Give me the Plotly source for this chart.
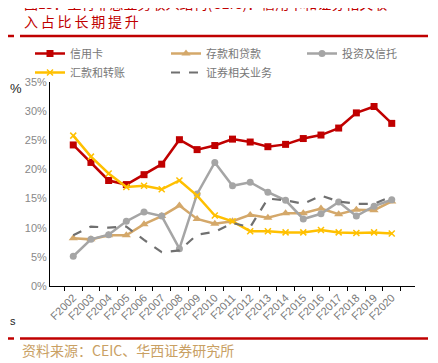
import plotly.graph_objects as go

years = ["F2002","F2003","F2004","F2005","F2006","F2007","F2008","F2009","F2010","F2011",
         "F2012","F2013","F2014","F2015","F2016","F2017","F2018","F2019","F2020"]
credit_card = [24.2,21.2,18.1,17.4,19.1,20.9,25.1,23.4,24.1,25.2,24.7,23.9,24.3,25.3,25.9,27.1,29.7,30.8,27.9]
deposits_loans = [8.2,8.0,8.7,8.7,10.6,12.0,13.8,11.5,10.7,11.1,12.2,11.7,12.5,12.5,13.3,12.3,13.1,13.0,14.5]
invest_trust = [5.1,8.0,8.8,11.1,12.7,12.0,6.4,15.8,21.2,17.2,17.8,16.1,14.7,11.5,12.4,14.4,12.0,13.7,14.8]
remit_transfer = [25.8,22.2,19.3,17.0,17.2,16.6,18.1,15.5,12.1,11.1,9.4,9.4,9.2,9.2,9.6,9.2,9.1,9.2,9.0]
securities = [8.7,10.2,10.0,10.2,7.9,5.8,6.1,8.8,9.3,10.8,10.1,15.0,14.7,14.1,15.5,14.5,14.1,14.1,15.4]
y_ticks = [0,5,10,15,20,25,30,35]
y_tick_text = [f"{v}%" for v in y_ticks]

fig = go.Figure()
fig.add_trace(go.Scatter(x=years, y=credit_card, name="信用卡", mode="lines+markers",
                         line=dict(color="#C00000", width=2.5),
                         marker=dict(symbol="square", size=7, color="#C00000")))
fig.add_trace(go.Scatter(x=years, y=deposits_loans, name="存款和贷款", mode="lines+markers",
                         line=dict(color="#D4A86A", width=2.5),
                         marker=dict(symbol="triangle-up", size=8, color="#D4A86A")))
fig.add_trace(go.Scatter(x=years, y=invest_trust, name="投资及信托", mode="lines+markers",
                         line=dict(color="#A5A5A5", width=2.5),
                         marker=dict(symbol="circle", size=7, color="#A5A5A5")))
fig.add_trace(go.Scatter(x=years, y=remit_transfer, name="汇款和转账", mode="lines+markers",
                         line=dict(color="#FFC000", width=2.5),
                         marker=dict(symbol="x-thin-open", size=6, color="#FFC000",
                                     line=dict(color="#FFC000", width=1.5))))
fig.add_trace(go.Scatter(x=years, y=securities, name="证券相关业务", mode="lines",
                         line=dict(color="#707070", width=2.2, dash="dash")))

# page body has an 8px margin: the figure is drawn 8px right/down of the window origin
OFF = 8
W, H = 438 - OFF, 363 - OFF
L, T = 50 - OFF, 82 - OFF
pw, ph = 365, 204
R, B = W - L - pw, H - T - ph

def px(x):  # x in window pixels
    return (x - OFF - L) / pw

def py(y):  # y in window pixels
    return (T + ph - (y - OFF)) / ph

fig.update_layout(
    width=W, height=H,
    margin=dict(l=L, r=R, t=T, b=B),
    paper_bgcolor="white", plot_bgcolor="white",
    font=dict(family="Liberation Sans, Arial, Noto Sans CJK SC", size=11, color="#777"),
    showlegend=True,
    legend=dict(orientation="h", x=px(39), y=py(39), xanchor="left", yanchor="top",
                entrywidth=91, entrywidthmode="pixels", tracegroupgap=0,
                font=dict(family="Noto Sans CJK SC", size=11, color="#777"),
                itemwidth=30, bgcolor="rgba(0,0,0,0)"),
    xaxis=dict(type="category", showline=True, linecolor="#000", linewidth=1,
               ticks="outside", tickson="boundaries", ticklen=4, tickcolor="#000",
               tickangle=-45, showgrid=False, tickfont=dict(size=11, color="#777")),
    yaxis=dict(range=[0, 35], tickvals=y_ticks, ticktext=y_tick_text, showline=True,
               linecolor="#000", linewidth=1, showgrid=False, zeroline=False,
               ticks="", tickfont=dict(size=11, color="#888")),
)

shapes = []
for yy in (36, 338.5):
    shapes.append(dict(type="line", xref="paper", yref="paper", x0=px(0), x1=px(14),
                       y0=py(yy), y1=py(yy), line=dict(color="#C00000", width=2.5)))
    shapes.append(dict(type="line", xref="paper", yref="paper", x0=px(20), x1=px(428),
                       y0=py(yy), y1=py(yy), line=dict(color="#C00000", width=2.5)))
fig.update_layout(shapes=shapes)

title_text = ("图15：工行非息业务收入结构(CEIC)：信用卡和证券相关收<br>"
              "入\u2009占\u2009比\u2009长\u2009期\u2009提\u2009升")
ann = [
    dict(text=title_text, x=px(22), y=py(12), xanchor="left", yanchor="middle", align="left",
         font=dict(family="Noto Sans CJK SC", size=14, color="#C00000")),
    dict(text="资料来源：CEIC、华西证券研究所", x=px(20), y=py(350), xanchor="left", yanchor="middle",
         font=dict(family="Noto Sans CJK SC", size=14, color="#C9A063")),
    dict(text="%", x=px(8), y=py(88), xanchor="left", yanchor="middle",
         font=dict(size=13, color="#222")),
    dict(text="s", x=px(8), y=py(321), xanchor="left", yanchor="middle",
         font=dict(size=11, color="#222")),
]
for a in ann:
    a.update(xref="paper", yref="paper", showarrow=False)
fig.update_layout(annotations=ann)

fig.write_html("out.html")
